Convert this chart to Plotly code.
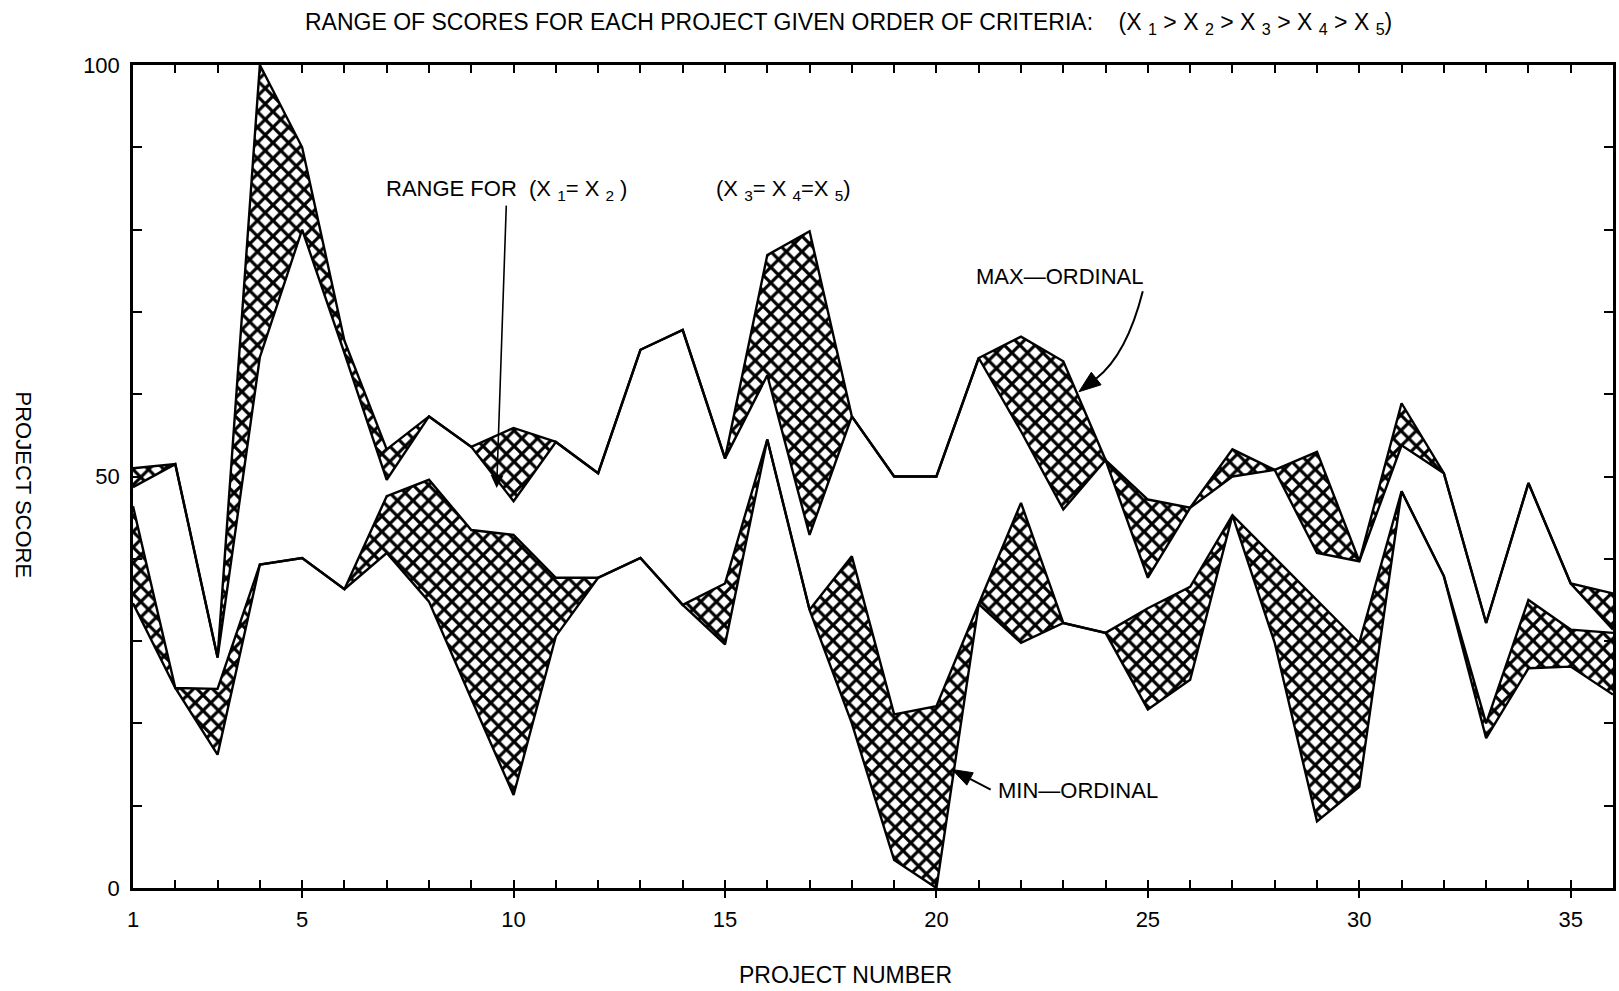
import plotly.graph_objects as go

# ---------------- data ----------------
projects = list(range(1, 37))

max_upper = [51.0, 51.5, 28.0, 100.0, 90.0, 66.5, 53.3, 57.3, 53.6, 55.9,
             54.2, 50.4, 65.4, 67.8, 52.2, 76.9, 79.8, 57.3, 50.0, 50.0,
             64.4, 67.0, 64.0, 52.0, 47.2, 46.2, 53.3, 50.8, 53.0, 39.7,
             58.9, 50.4, 32.2, 49.2, 37.0, 35.8]
max_lower = [48.7, 51.5, 28.0, 64.5, 80.0, 65.0, 49.6, 57.3, 53.6, 47.0,
             54.2, 50.4, 65.4, 67.8, 52.2, 62.3, 42.9, 57.3, 50.0, 50.0,
             64.4, 55.5, 46.0, 52.0, 37.7, 46.2, 50.0, 50.8, 40.7, 39.7,
             53.8, 50.4, 32.2, 49.2, 37.0, 31.4]
min_upper = [46.4, 24.3, 24.2, 39.3, 40.1, 36.3, 47.6, 49.6, 43.5, 42.9,
             37.7, 37.7, 40.1, 34.4, 37.0, 54.5, 33.8, 40.3, 21.1, 22.1,
             34.5, 46.8, 32.2, 31.0, 34.0, 36.6, 45.3, 40.1, 35.0, 29.8,
             48.2, 37.9, 20.0, 35.0, 31.4, 31.0]
min_lower = [34.6, 24.3, 16.2, 39.3, 40.1, 36.3, 40.7, 34.8, 23.0, 11.3,
             30.6, 37.7, 40.1, 34.4, 29.6, 54.5, 33.8, 20.0, 3.4, 0.0,
             34.5, 29.8, 32.2, 31.0, 21.7, 25.3, 45.3, 29.8, 8.1, 12.3,
             48.2, 37.9, 18.2, 26.7, 26.9, 23.5]

x_label_ticks = [1, 5, 10, 15, 20, 25, 30, 35]
x_label_text = ["1", "5", "10", "15", "20", "25", "30", "35"]
x_major_ticks = [5, 10, 15, 20, 25, 30, 35]
y_label_ticks = [0, 50, 100]
y_label_text = ["0", "50", "100"]

FONT = "Liberation Sans, Arial, sans-serif"

hatch = dict(shape="x", fgcolor="black", bgcolor="white",
             size=11, solidity=0.5, fillmode="replace")
line_style = dict(color="black", width=2.4)

fig = go.Figure()

# max-ordinal band
fig.add_trace(go.Scatter(x=projects, y=max_lower, mode="lines",
                         line=line_style, showlegend=False, hoverinfo="skip"))
fig.add_trace(go.Scatter(x=projects, y=max_upper, mode="lines",
                         line=line_style, fill="tonexty", fillpattern=hatch,
                         fillcolor="white", showlegend=False, hoverinfo="skip"))
# min-ordinal band
fig.add_trace(go.Scatter(x=projects, y=min_lower, mode="lines",
                         line=line_style, showlegend=False, hoverinfo="skip"))
fig.add_trace(go.Scatter(x=projects, y=min_upper, mode="lines",
                         line=line_style, fill="tonexty", fillpattern=hatch,
                         fillcolor="white", showlegend=False, hoverinfo="skip"))
# invisible copy to carry the secondary (major tick) x axis
fig.add_trace(go.Scatter(x=projects, y=min_upper, mode="lines", xaxis="x2",
                         line=dict(width=0, color="rgba(0,0,0,0)"),
                         showlegend=False, hoverinfo="skip"))

fig.update_layout(
    width=1619, height=991,
    margin=dict(l=133, r=3, t=65, b=103),
    paper_bgcolor="white", plot_bgcolor="white",
    font=dict(family=FONT, color="black", size=22),
    xaxis=dict(range=[1, 36], tickmode="array", tickvals=x_label_ticks,
               ticktext=x_label_text, ticks="inside", ticklen=8, tickwidth=2,
               tickcolor="black", mirror="ticks", showline=True,
               linewidth=2.5, linecolor="black", showgrid=False,
               zeroline=False, tickfont=dict(size=22, family=FONT),
               ticklabelstandoff=10,
               minor=dict(dtick=1, tick0=1, ticks="inside", ticklen=8,
                          tickwidth=2, tickcolor="black", showgrid=False)),
    xaxis2=dict(range=[1, 36], overlaying="x", anchor="y", side="bottom",
                tickmode="array", tickvals=x_major_ticks, ticks="outside",
                ticklen=9, tickwidth=2, tickcolor="black",
                showticklabels=False, showline=False, showgrid=False,
                zeroline=False),
    yaxis=dict(range=[0, 100], tickmode="array", tickvals=y_label_ticks,
               ticktext=y_label_text, ticks="inside", ticklen=9, tickwidth=2,
               tickcolor="black", mirror="ticks", showline=True,
               linewidth=2.5, linecolor="black", showgrid=False,
               zeroline=False, tickfont=dict(size=22, family=FONT),
               ticklabelstandoff=6,
               minor=dict(dtick=10, tick0=0, ticks="inside", ticklen=9,
                          tickwidth=2, tickcolor="black", showgrid=False)),
)

annotations = [
    dict(xref="paper", yref="paper", x=0.4835, y=1.05, xanchor="center",
         yanchor="middle", showarrow=False, font=dict(size=23),
         text="RANGE OF SCORES FOR EACH PROJECT GIVEN ORDER OF CRITERIA:"
              "    (X <sub>1</sub> &gt; X <sub>2</sub> &gt; X <sub>3</sub> &gt; "
              "X <sub>4</sub> &gt; X <sub>5</sub>)"),
    dict(xref="paper", yref="paper", x=0.4815, y=-0.106, xanchor="center",
         yanchor="middle", showarrow=False, font=dict(size=23),
         text="PROJECT NUMBER"),
    dict(xref="paper", yref="paper", x=-0.0742, y=0.49, xanchor="center",
         yanchor="middle", showarrow=False, font=dict(size=22),
         textangle=90, text="PROJECT SCORE"),
    # label with its leader arrow down to the range band at project ~9.6
    dict(xref="x", yref="y", x=9.6, y=48.6, ax=9.84, ay=84.8,
         axref="x", ayref="y", xanchor="center", yanchor="middle",
         showarrow=True, arrowhead=2, arrowsize=1.6, arrowwidth=1.6,
         arrowcolor="black", standoff=0, font=dict(size=22),
         text="RANGE FOR  (X <sub>1</sub>= X <sub>2</sub> )"),
    dict(xref="x", yref="y", x=14.75, y=84.8, xanchor="left", yanchor="middle",
         showarrow=False, font=dict(size=22),
         text="(X <sub>3</sub>= X <sub>4</sub>=X <sub>5</sub>)"),
    dict(xref="x", yref="y", x=20.9, y=74.3, xanchor="left", yanchor="middle",
         showarrow=False, font=dict(size=22), text="MAX—ORDINAL"),
    dict(xref="x", yref="y", x=21.41, y=11.9, xanchor="left", yanchor="middle",
         showarrow=False, font=dict(size=22), text="MIN—ORDINAL"),
]
fig.update_layout(annotations=annotations)

# curved leader line + arrowhead for the MAX-ORDINAL label
fig.add_shape(type="path", xref="x", yref="y",
              path="M 24.88,72.5 Q 24.5,64.8 23.78,61.9",
              line=dict(color="black", width=2))
fig.add_shape(type="path", xref="x", yref="y",
              path="M 23.37,60.30 L 23.894,61.14 L 23.663,62.67 Z",
              fillcolor="black", line=dict(color="black", width=1))
# leader line + arrowhead for the MIN-ORDINAL label
fig.add_shape(type="line", xref="x", yref="y",
              x0=21.283, y0=11.94, x1=20.795, y1=13.25,
              line=dict(color="black", width=2))
fig.add_shape(type="path", xref="x", yref="y",
              path="M 20.37,14.40 L 20.870,14.00 L 20.719,12.50 Z",
              fillcolor="black", line=dict(color="black", width=1))

fig.write_html("out.html")
